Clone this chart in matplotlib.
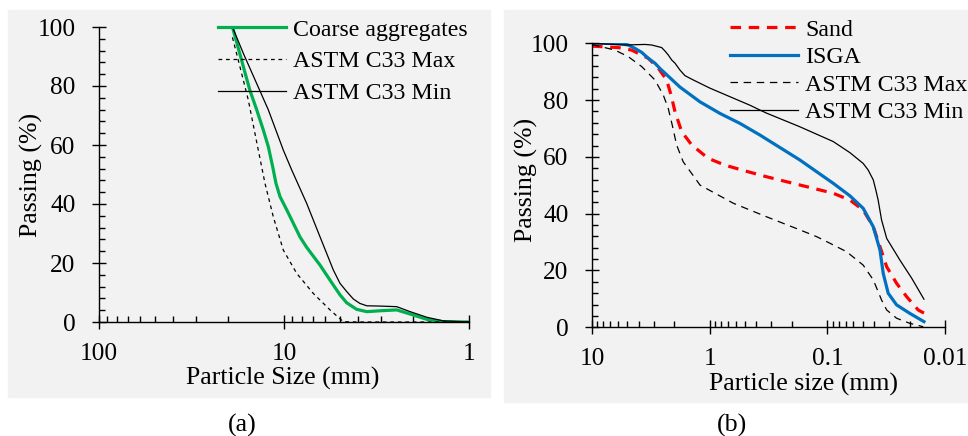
import matplotlib.pyplot as plt
from matplotlib.patches import Rectangle
from matplotlib.ticker import FixedLocator, FuncFormatter, LogLocator, MultipleLocator, NullFormatter

plt.rcParams["font.family"] = ["Liberation Serif", "DejaVu Serif"]

# (a) coarse aggregates, particle size (mm) vs passing (%)
COARSE_SIZE = [19.0, 15.3, 14.04, 12.94, 12.15, 11.51, 11.05, 10.51, 9.66, 8.72, 8.19,
               7.54, 6.39, 5.41, 4.98, 4.58, 4.05, 3.57, 3.03, 2.46, 2.08, 1.69, 1.38, 1.0]
COARSE_PASS = [100, 78.6, 71.9, 65.1, 59.4, 52.6, 47.0, 42.5, 38.0, 32.3, 28.8,
               25.3, 19.3, 12.5, 9.2, 6.5, 4.3, 3.5, 3.8, 4.1, 2.7, 0.9, 0.1, 0]

A_MAX_SIZE = [19.0, 17.3, 15.6, 14.05, 12.67, 11.43, 10.09, 8.54, 6.95, 5.64, 4.78,
              4.0, 2.36, 1.5, 1.0]
A_MAX_PASS = [96.5, 86.5, 75.3, 61.0, 47.0, 35.7, 24.4, 16.5, 9.7, 4.1, 0.1,
              0, 0, 0, 0]

A_MIN_SIZE = [19.0, 16.6, 12.15, 10.09, 9.08, 7.54, 6.39, 5.41, 4.98, 4.58, 4.22,
              3.89, 3.57, 3.03, 2.46, 2.08, 1.69, 1.38, 1.0]
A_MIN_PASS = [100, 91.1, 71.9, 58.3, 51.5, 40.2, 28.9, 17.6, 13.1, 10.3, 7.8,
              6.3, 5.5, 5.4, 5.2, 3.5, 1.6, 0.4, 0]

# (b) sand and ISGA
SAND_SIZE = [10, 5.98, 4.60, 3.32, 2.73, 2.32, 2.13, 1.97, 1.73, 1.42, 1.03, 0.741,
             0.535, 0.328, 0.171, 0.0891, 0.0643, 0.0496, 0.0407, 0.0357, 0.0313,
             0.0258, 0.0212, 0.0169, 0.0151]
SAND_PASS = [99.0, 98.5, 97.6, 94.7, 91.2, 87.1, 81.8, 75.9, 68.9, 64.2, 59.5, 57.1,
             55.4, 53.0, 50.1, 47.2, 44.8, 41.3, 35.4, 28.4, 21.3,
             15.5, 10.8, 6.1, 5.0]

ISGA_SIZE = [10, 6.9, 5.60, 4.92, 4.31, 3.78, 3.32, 2.92, 2.64, 1.79, 1.21, 0.817,
             0.553, 0.374, 0.171, 0.0891, 0.0643, 0.0496,
             0.0407, 0.0357, 0.0335, 0.0304, 0.0258, 0.0199, 0.0151]
ISGA_PASS = [100, 100, 99.8, 99.4, 98.2, 96.8, 94.7, 93.0, 91.1, 84.6, 79.4, 75.3,
             71.8, 67.7, 58.9, 50.7, 46.3, 41.9,
             35.4, 27.2, 19.0, 12.0, 7.9, 4.9, 2.0]

B_MAX_SIZE = [10, 6.38, 4.92, 3.78, 2.92, 2.48, 2.25, 2.08, 1.91, 1.68, 1.33, 1.21,
              0.631, 0.328, 0.171, 0.123, 0.0951, 0.0685, 0.0496, 0.0407, 0.0346,
              0.0313, 0.0258, 0.0199, 0.0153]
B_MAX_PASS = [99.6, 97.6, 95.3, 91.8, 87.1, 81.8, 77.1, 71.2, 64.2, 58.3, 52.5, 50.1,
              43.7, 38.9, 34.3, 31.9, 29.6, 26.6, 21.9, 16.7, 9.6,
              6.1, 3.2, 1.4, 0.2]

B_MIN_SIZE = [10, 5.24, 3.55, 3.11, 2.56, 2.40, 2.25, 2.10, 1.97, 1.79, 1.62, 1.38,
              0.994, 0.673, 0.455, 0.374, 0.328, 0.171, 0.0891, 0.0643, 0.0496,
              0.045, 0.0407, 0.0387, 0.0370, 0.0346, 0.0313, 0.0242, 0.0192, 0.0151]
B_MIN_PASS = [100, 99.4, 99.6, 99.4, 98.5, 97.3, 95.9, 94.1, 93.0, 90.6, 88.6, 87.1,
              84.2, 81.2, 78.2, 76.5, 75.4, 70.6, 65.4, 61.5, 57.7,
              55.4, 51.9, 48.3, 44.8, 37.8, 31.3, 23.7, 17.3, 9.9]

PANEL_BG = "#f2f2f2"
TICK_FS = 18.2
LABEL_FS = 18.6
LEGEND_FS = 17.2


def style_axes(ax, xlim):
    ax.set_facecolor(PANEL_BG)
    ax.set_xscale("log")
    ax.set_xlim(*xlim)
    ax.set_ylim(0, 100)
    for side in ("top", "right"):
        ax.spines[side].set_visible(False)
    for side in ("left", "bottom"):
        ax.spines[side].set_linewidth(1.0)
    ax.yaxis.set_major_locator(FixedLocator([0, 20, 40, 60, 80, 100]))
    ax.yaxis.set_minor_locator(MultipleLocator(4))
    ax.xaxis.set_major_locator(LogLocator(base=10))
    ax.xaxis.set_minor_locator(LogLocator(base=10, subs=range(2, 10)))
    ax.xaxis.set_major_formatter(FuncFormatter(lambda v, p: f"{v:g}"))
    ax.xaxis.set_minor_formatter(NullFormatter())
    ax.tick_params(which="major", direction="inout", length=10, width=1,
                   labelsize=TICK_FS)
    ax.tick_params(axis="y", which="major", pad=12)
    ax.tick_params(axis="x", which="major", pad=10)
    ax.tick_params(which="minor", direction="in", length=4.5, width=1)


def main() -> None:
    fig = plt.figure(figsize=(9.68, 4.36), dpi=100)

    # grey panel backgrounds
    fig.patches.append(Rectangle((8 / 968, 39 / 436), 482 / 968, 387 / 436,
                                 transform=fig.transFigure, color=PANEL_BG, zorder=-5))
    fig.patches.append(Rectangle((504 / 968, 34 / 436), 464 / 968, 392 / 436,
                                 transform=fig.transFigure, color=PANEL_BG, zorder=-5))

    # (a)
    ax1 = fig.add_axes([99 / 968, 114 / 436, 370 / 968, 295 / 436])
    style_axes(ax1, (100, 1))
    ax1.plot(COARSE_SIZE, COARSE_PASS, color="#00b050", lw=2.3, label="Coarse aggregates")
    ax1.plot(A_MAX_SIZE, A_MAX_PASS, color="black", lw=0.9, dashes=(3, 3),
             label="ASTM C33 Max")
    ax1.plot(A_MIN_SIZE, A_MIN_PASS, color="black", lw=0.9, label="ASTM C33 Min")
    ax1.set_xlabel("Particle Size (mm)", fontsize=LABEL_FS)
    ax1.set_ylabel("Passing (%)", fontsize=LABEL_FS)
    ax1.xaxis.set_label_coords(0.497, -0.153)
    ax1.yaxis.set_label_coords(-0.151, 0.5)
    ax1.legend(loc="upper left", bbox_to_anchor=(218 / 968, 1 - 19 / 436),
               bbox_transform=fig.transFigure, frameon=False, fontsize=LEGEND_FS,
               borderpad=0, borderaxespad=0, handlelength=2.85, handletextpad=0.29,
               labelspacing=0.42)

    # (b)
    ax2 = fig.add_axes([592 / 968, 108.7 / 436, 353 / 968, 284 / 436])
    style_axes(ax2, (10, 0.01))
    ax2.plot(SAND_SIZE, SAND_PASS, color="#ff0000", lw=2.3, dashes=(3.3, 2.4), label="Sand")
    ax2.plot(ISGA_SIZE, ISGA_PASS, color="#0070c0", lw=2.3, label="ISGA")
    ax2.plot(B_MAX_SIZE, B_MAX_PASS, color="black", lw=0.9, dashes=(6, 4.5),
             label="ASTM C33 Max")
    ax2.plot(B_MIN_SIZE, B_MIN_PASS, color="black", lw=0.9, label="ASTM C33 Min")
    ax2.set_xlabel("Particle size (mm)", fontsize=LABEL_FS)
    ax2.set_ylabel("Passing (%)", fontsize=LABEL_FS)
    ax2.xaxis.set_label_coords(0.598, -0.161)
    ax2.yaxis.set_label_coords(-0.153, 0.519)
    ax2.legend(loc="upper left", bbox_to_anchor=(730 / 968, 1 - 19 / 436),
               bbox_transform=fig.transFigure, frameon=False, fontsize=LEGEND_FS,
               borderpad=0, borderaxespad=0, handlelength=2.85, handletextpad=0.29,
               labelspacing=0.24)

    fig.text(242 / 968, 1 - 425 / 436, "(a)", fontsize=LABEL_FS, ha="center", va="center")
    fig.text(732 / 968, 1 - 425 / 436, "(b)", fontsize=LABEL_FS, ha="center", va="center")

    fig.savefig("out.png", dpi=100)
    plt.close(fig)


if __name__ == "__main__":
    main()
